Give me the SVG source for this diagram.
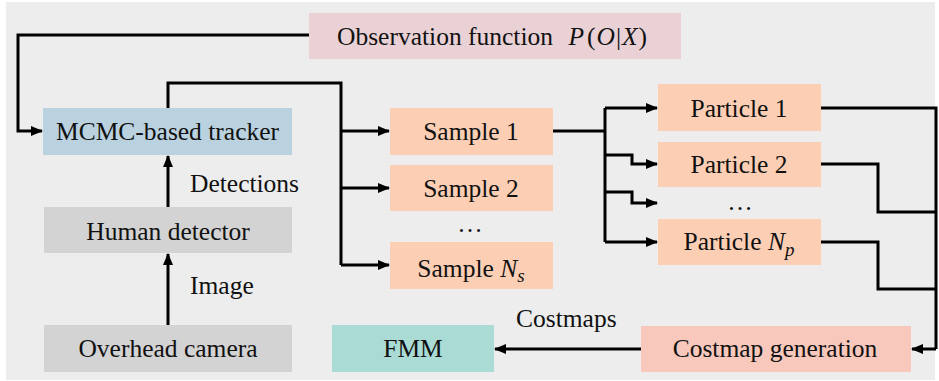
<svg xmlns="http://www.w3.org/2000/svg" width="939" height="381" viewBox="0 0 939 381">
  <defs>
    <marker id="arrow" markerUnits="userSpaceOnUse" markerWidth="12" markerHeight="10" refX="11" refY="5" orient="auto">
      <path d="M0,0 L12,5 L0,10 Z" fill="#000"/>
    </marker>
    <style>
      .lbl { font-family: "Liberation Serif", "Times New Roman", serif; font-size: 25.5px; fill: #111; }
      .mi { font-style: italic; }
      .wire { fill: none; stroke: #000; stroke-width: 3; stroke-linejoin: miter; }
      .arr { marker-end: url(#arrow); }
    </style>
  </defs>

  <!-- canvas -->
  <rect x="0" y="0" width="939" height="381" fill="#ffffff"/>
  <rect x="6" y="2" width="929" height="378" fill="#ededed"/>

  <!-- connectors -->
  <g id="connectors">
    <polyline class="wire arr" points="309,35 18,35 18,131 42,131"/>
    <polyline class="wire" points="168,108 168,83 341,83 341,265"/>
    <polyline class="wire arr" points="341,131 389,131"/>
    <polyline class="wire arr" points="341,188 389,188"/>
    <polyline class="wire arr" points="341,265 389,265"/>
    <polyline class="wire arr" points="168,207 168,156"/>
    <polyline class="wire arr" points="168,325 168,254"/>
    <polyline class="wire" points="553,131 605,131"/>
    <polyline class="wire" points="605,108 605,242"/>
    <polyline class="wire arr" points="605,108 657,108"/>
    <polyline class="wire arr" points="605,155 632,155 632,164 657,164"/>
    <polyline class="wire arr" points="605,192 632,192 632,203 657,203"/>
    <polyline class="wire arr" points="605,242 657,242"/>
    <polyline class="wire" points="821,108 936,108 936,349"/>
    <polyline class="wire" points="821,164 878,164 878,212 936,212"/>
    <polyline class="wire" points="821,242 878,242 878,289 936,289"/>
    <polyline class="wire arr" points="936,349 912,349"/>
    <polyline class="wire arr" points="641,349 495,349"/>
  </g>

  <!-- edge labels -->
  <text class="lbl" x="190" y="192">Detections</text>
  <text class="lbl" x="190" y="294">Image</text>
  <text class="lbl" x="516" y="327">Costmaps</text>
  <text class="lbl" x="470" y="232" text-anchor="middle">…</text>
  <text class="lbl" x="740" y="210" text-anchor="middle">…</text>

  <g id="observation">
    <rect x="309" y="13" width="372" height="46" fill="#e9d1d6"/>
    <text class="lbl" x="337" y="45">Observation function <tspan dx="9" class="mi">P</tspan><tspan dx="3">(</tspan><tspan dx="1" class="mi">O</tspan><tspan dx="1">|</tspan><tspan dx="1" class="mi">X</tspan><tspan dx="1">)</tspan></text>
  </g>
  <g id="mcmc">
    <rect x="43" y="108" width="249" height="47" fill="#bad2df"/>
    <text class="lbl" x="167.5" y="140" text-anchor="middle">MCMC-based tracker</text>
  </g>
  <g id="human-detector">
    <rect x="44" y="207" width="248" height="46" fill="#d3d3d3"/>
    <text class="lbl" x="168" y="240" text-anchor="middle">Human detector</text>
  </g>
  <g id="overhead-camera">
    <rect x="44" y="325" width="248" height="47" fill="#d3d3d3"/>
    <text class="lbl" x="168" y="357" text-anchor="middle">Overhead camera</text>
  </g>
  <g id="fmm">
    <rect x="332" y="325" width="162" height="47" fill="#aadcd5"/>
    <text class="lbl" x="413" y="357" text-anchor="middle">FMM</text>
  </g>
  <g id="sample-1">
    <rect x="390" y="108" width="163" height="47" fill="#fccfb5"/>
    <text class="lbl" x="471" y="140" text-anchor="middle">Sample 1</text>
  </g>
  <g id="sample-2">
    <rect x="390" y="165" width="163" height="46" fill="#fccfb5"/>
    <text class="lbl" x="471" y="197" text-anchor="middle">Sample 2</text>
  </g>
  <g id="sample-ns">
    <rect x="390" y="242" width="163" height="47" fill="#fccfb5"/>
    <text class="lbl" x="471" y="277" text-anchor="middle">Sample <tspan class="mi">N</tspan><tspan class="mi" font-size="19" dy="5">s</tspan></text>
  </g>
  <g id="particle-1">
    <rect x="658" y="84" width="163" height="47" fill="#fccfb5"/>
    <text class="lbl" x="739" y="117" text-anchor="middle">Particle 1</text>
  </g>
  <g id="particle-2">
    <rect x="658" y="142" width="163" height="45" fill="#fccfb5"/>
    <text class="lbl" x="739" y="173" text-anchor="middle">Particle 2</text>
  </g>
  <g id="particle-np">
    <rect x="658" y="219" width="163" height="46" fill="#fccfb5"/>
    <text class="lbl" x="739" y="250" text-anchor="middle">Particle <tspan class="mi">N</tspan><tspan class="mi" font-size="19" dy="6">p</tspan></text>
  </g>
  <g id="costmap-generation">
    <rect x="641" y="326" width="270" height="46" fill="#f8c8bc"/>
    <text class="lbl" x="775" y="357" text-anchor="middle">Costmap generation</text>
  </g>
</svg>
